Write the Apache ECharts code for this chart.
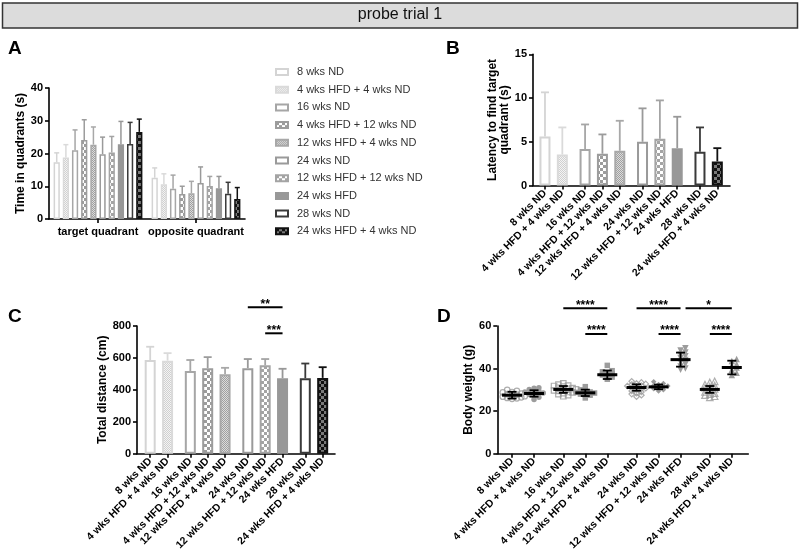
<!DOCTYPE html>
<html><head><meta charset="utf-8">
<script src="https://cdn.jsdelivr.net/npm/echarts@6/dist/echarts.min.js"></script>
<style>html,body{margin:0;padding:0;background:#fff}#c{width:800px;height:553px}</style>
</head><body><div id="c"></div><script>
// ---------------- DATA ----------------
const groups = ['8 wks ND','4 wks HFD + 4 wks ND','16 wks ND','4 wks HFD + 12 wks ND','12 wks HFD + 4 wks ND','24 wks ND','12 wks HFD + 12 wks ND','24 wks HFD','28 wks ND','24 wks HFD + 4 wks ND'];
const groupOf = [0,0,1,1,1,2,2,2,3,3];
const quadrants = ['target quadrant','opposite quadrant'];
const timeTarget   = [17.3,18.8,21.0,24.1,22.7,19.8,20.3,22.8,22.9,26.6];
const timeTargetSD = [2.9,3.9,6.2,6.2,5.4,5.2,4.9,7.0,6.6,3.9];
const timeOpposite   = [12.6,10.6,9.2,7.6,7.9,11.0,10.1,9.4,7.7,6.1];
const timeOppositeSD = [3.0,3.2,4.2,2.4,3.6,4.9,2.9,3.6,3.5,3.5];
const latency   = [5.61,3.55,4.16,3.63,3.97,5.0,5.34,4.27,3.85,2.75];
const latencySD = [5.04,3.09,2.82,2.21,3.43,3.82,4.39,3.59,2.79,1.52];
const distance   = [587,583,518,536,498,536,554,473,473,475];
const distanceSD = [83,47,69,69,40,57,39,59,92,67];
const bodyWeightMean = [27.5,28.3,30.2,28.6,37.1,31.1,31.4,44.2,30.2,40.5];
const bodyWeightSD   = [1.6,1.5,1.6,1.5,2.0,1.5,1.1,3.3,1.6,3.2];
const bw8ND      = [27.5,28.2,26.8,29.5,30.0,26.2,27.0,28.8,25.8,27.8,26.5,29.0,28.0,26.0];
const bw4H4N     = [28.5,29.5,30.8,27.2,28.0,26.5,29.0,31.0,27.8,25.5,28.8,30.2];
const bw16ND     = [30.0,31.5,29.0,32.5,28.0,30.5,33.0,27.5,29.5,31.0,32.0,28.5,30.8,29.8,27.0,31.8,30.2,28.8];
const bw4H12N    = [28.5,29.5,27.5,31.5,28.0,26.2,29.0,30.0,27.8,28.8];
const bw12H4N    = [37.0,38.5,36.0,41.5,35.0,37.5,39.0,36.5,38.0];
const bw24ND     = [31.0,32.5,29.5,33.5,28.0,30.5,34.0,27.5,31.5,30.0,32.0,29.0,33.0,28.5,31.8,30.8,26.8,32.8];
const bw12H12N   = [31.5,32.5,30.5,33.8,29.5,31.0,32.0,30.0,33.0,31.8];
const bw24HFD    = [44.0,46.5,42.0,49.5,40.0,45.0,47.5,43.0,41.0,48.5,39.5,45.8];
const bw28ND     = [30.0,32.0,28.0,33.5,27.0,31.0,29.0,34.0,26.5,30.5,32.5,28.5,27.5,31.5];
const bw24H4N    = [40.5,43.5,38.0,44.5,37.0,41.5,39.5,42.0];
const bodyWeights = [bw8ND,bw4H4N,bw16ND,bw4H12N,bw12H4N,bw24ND,bw12H12N,bw24HFD,bw28ND,bw24H4N];
const sigDistance = [{from:5,to:7,label:'**',row:0},{from:6,to:7,label:'***',row:1}];
const sigWeight = [{from:2,to:4,label:'****',row:0},{from:5,to:7,label:'****',row:0},{from:7,to:9,label:'*',row:0},
                   {from:3,to:4,label:'****',row:1},{from:6,to:7,label:'****',row:1},{from:8,to:9,label:'****',row:1}];
const axisA = {min:0,max:40,interval:10};
const axisB = {min:0,max:15,interval:5};
const axisC = {min:0,max:800,interval:200};
const axisD = {min:0,max:60,interval:20};

// ---------------- STYLE ----------------
const FONT = 'Liberation Sans, Arial, Helvetica, sans-serif';
function makePattern(type,a,b){
  const c=document.createElement('canvas');
  if(type==='checker'){c.width=6;c.height=6;const x=c.getContext('2d');x.fillStyle=b;x.fillRect(0,0,6,6);x.fillStyle=a;x.fillRect(0,0,3,3);x.fillRect(3,3,3,3);}
  else{c.width=2;c.height=2;const x=c.getContext('2d');x.fillStyle=b;x.fillRect(0,0,2,2);x.fillStyle=a;x.fillRect(0,0,1,1);x.fillRect(1,1,1,1);}
  return {image:c,repeat:'repeat'};
}
const STY = [
 {stroke:'#d4d4d4', fill:'#ffffff'},
 {stroke:'#dadada', fill:makePattern('fine','#d0d0d0','#f4f4f4')},
 {stroke:'#a6a6a6', fill:'#ffffff'},
 {stroke:'#9c9c9c', fill:makePattern('checker','#9c9c9c','#ffffff')},
 {stroke:'#a8a8a8', fill:makePattern('fine','#a0a0a0','#dcdcdc')},
 {stroke:'#9a9a9a', fill:'#ffffff'},
 {stroke:'#a4a4a4', fill:makePattern('checker','#a4a4a4','#ffffff')},
 {stroke:'#989898', fill:'#989898'},
 {stroke:'#3a3a3a', fill:'#ffffff'},
 {stroke:'#111111', fill:makePattern('checker','#111111','#7a7a7a')}
];
const SYM = [
 {s:'circle',open:true},{s:'circle'},{s:'rect',open:true},{s:'rect'},{s:'rect'},
 {s:'diamond',open:true},{s:'diamond'},{s:'triangle',rot:180},{s:'triangle',open:true},{s:'triangle'}
];
const posB = groups.map((_,i)=>i+groupOf[i]*0.31);
const posD = groups.map((_,i)=>i+groupOf[i]*0.33);

const axLine = {show:true,onZero:false,lineStyle:{color:'#000',width:1.6}};
const axTick = {show:true,length:4,lineStyle:{color:'#000',width:1.6}};
function yAx(grid, r, name, gap){
  return {type:'value',gridIndex:grid,min:r.min,max:r.max,interval:r.interval,
    axisLine:axLine,axisTick:axTick,splitLine:{show:false},
    axisLabel:{color:'#000',fontWeight:'bold',fontSize:11,margin:6,fontFamily:FONT},
    name:name,nameLocation:'middle',nameGap:gap,nameRotate:90,
    nameTextStyle:{color:'#000',fontWeight:'bold',fontSize:12,fontFamily:FONT,lineHeight:12}};
}
function xVal(grid,pos,min,max){
  return {type:'value',gridIndex:grid,min:min,max:max,
    axisLine:axLine,axisTick:Object.assign({},axTick,{customValues:pos}),splitLine:{show:false},
    axisLabel:{customValues:pos,rotate:45,margin:6,color:'#000',fontWeight:'bold',fontSize:10.5,fontFamily:FONT,
      formatter:(v)=>{let bi=0,bd=1e9;pos.forEach((p,i)=>{const d=Math.abs(p-v);if(d<bd){bd=d;bi=i;}});return groups[bi];}}};
}

const series = [];
// Panel A bars
const BWA = 6.2, GAPA = 0.48;
groups.forEach((g,s)=>{
  series.push({type:'bar',name:g,xAxisIndex:0,yAxisIndex:0,data:[timeTarget[s],timeOpposite[s]],
    barWidth:BWA,barGap:(GAPA*100)+'%',animation:false,silent:true,
    itemStyle:{color:STY[s].fill,borderColor:STY[s].stroke,borderWidth:1.5}});
});
// Panel A error bars
const errA=[];
groups.forEach((g,s)=>{errA.push([0,timeTarget[s],timeTargetSD[s],s]);errA.push([1,timeOpposite[s],timeOppositeSD[s],s]);});
series.push({type:'custom',xAxisIndex:0,yAxisIndex:0,data:errA,clip:false,silent:true,animation:false,z:1,
  renderItem:(p,api)=>{
    const s=api.value(3);const off=(s-4.5)*BWA*(1+GAPA);
    const b=api.coord([api.value(0),api.value(1)]);const t=api.coord([api.value(0),api.value(1)+api.value(2)]);
    const x=b[0]+off;const st={stroke:STY[s].stroke,lineWidth:1.5};
    return {type:'group',children:[
      {type:'line',shape:{x1:x,y1:b[1],x2:x,y2:t[1]},style:st},
      {type:'line',shape:{x1:x-2.5,y1:t[1],x2:x+2.5,y2:t[1]},style:st}]};
  }});
// Panels B and C bars
function barPanel(gridIdx, vals, sds, capW){
  groups.forEach((g,s)=>{
    series.push({type:'bar',name:g,xAxisIndex:gridIdx,yAxisIndex:gridIdx,data:[[posB[s],vals[s]]],
      barWidth:11,barGap:'-100%',animation:false,silent:true,
      itemStyle:{color:STY[s].fill,borderColor:STY[s].stroke,borderWidth:2}});
  });
  series.push({type:'custom',xAxisIndex:gridIdx,yAxisIndex:gridIdx,clip:false,silent:true,animation:false,z:1,
    data:groups.map((g,s)=>[posB[s],vals[s],sds[s],s]),
    renderItem:(p,api)=>{
      const s=api.value(3);
      const b=api.coord([api.value(0),api.value(1)]);const t=api.coord([api.value(0),api.value(1)+api.value(2)]);
      const st={stroke:STY[s].stroke,lineWidth:1.8};
      return {type:'group',children:[
        {type:'line',shape:{x1:b[0],y1:b[1],x2:b[0],y2:t[1]},style:st},
        {type:'line',shape:{x1:b[0]-capW/2,y1:t[1],x2:b[0]+capW/2,y2:t[1]},style:st}]};
    }});
}
barPanel(1, latency, latencySD, 8);
barPanel(2, distance, distanceSD, 8);
// Panel D scatter with beeswarm spread
function swarm(vals){
  const order=vals.map((v,i)=>i).sort((a,b)=>vals[a]-vals[b]);
  const placed=[];const offs=[0,0.22,-0.22,0.42,-0.42,0.58,-0.58];const res=new Array(vals.length);
  order.forEach(i=>{
    let best=0,bestC=1e9;
    for(const o of offs){let c=0;placed.forEach(q=>{if(Math.abs(q.v-vals[i])<1.4&&Math.abs(q.o-o)<0.15)c++;});
      if(c<bestC){bestC=c;best=o;} if(c===0)break;}
    placed.push({v:vals[i],o:best});res[i]=best;
  });
  return res;
}
groups.forEach((g,s)=>{
  const o=swarm(bodyWeights[s]);
  const sy=SYM[s];
  series.push({type:'scatter',name:g,xAxisIndex:3,yAxisIndex:3,animation:false,silent:true,
    data:bodyWeights[s].map((v,k)=>[posD[s]+o[k],v]),
    symbol:sy.s,symbolSize:sy.s==='triangle'?6.5:5.5,symbolRotate:sy.rot||0,
    itemStyle:sy.open?{color:'rgba(255,255,255,0)',borderColor:'#9a9a9a',borderWidth:1.2}:{color:'#9c9c9c',opacity:1}});
});
series.push({type:'custom',xAxisIndex:3,yAxisIndex:3,clip:false,silent:true,animation:false,z:5,
  data:groups.map((g,s)=>[posD[s],bodyWeightMean[s],bodyWeightSD[s]]),
  renderItem:(p,api)=>{
    const x=api.value(0),m=api.value(1),sd=api.value(2);
    const c=api.coord([x,m]),t=api.coord([x,m+sd]),b=api.coord([x,m-sd]);
    const st={stroke:'#000',lineWidth:1.8};
    return {type:'group',children:[
      {type:'line',shape:{x1:c[0]-10,y1:c[1],x2:c[0]+10,y2:c[1]},style:{stroke:'#000',lineWidth:3}},
      {type:'line',shape:{x1:c[0],y1:t[1],x2:c[0],y2:b[1]},style:st},
      {type:'line',shape:{x1:c[0]-4.5,y1:t[1],x2:c[0]+4.5,y2:t[1]},style:st},
      {type:'line',shape:{x1:c[0]-4.5,y1:b[1],x2:c[0]+4.5,y2:b[1]},style:st}]};
  }});
// significance bars
function sigSeries(gridIdx,list,pos,rowY){
  series.push({type:'custom',xAxisIndex:gridIdx,yAxisIndex:gridIdx,clip:false,silent:true,animation:false,z:5,
    data:list.map((c,k)=>[pos[c.from],pos[c.to],c.row,k]),
    renderItem:(p,api)=>{
      const k=api.value(3);const c=list[k];
      const cs=p.coordSys;
      let x1=api.coord([api.value(0),0])[0];const x2=api.coord([api.value(1),0])[0];
      if(list.some(o=>o!==c&&o.row===c.row&&o.to===c.from))x1+=5;
      const y=cs.y+rowY[c.row];
      return {type:'group',children:[
        {type:'line',shape:{x1:x1,y1:y,x2:x2,y2:y},style:{stroke:'#000',lineWidth:2}},
        {type:'text',style:{text:c.label,x:(x1+x2)/2,y:y-3,align:'center',verticalAlign:'middle',textAlign:'center',textVerticalAlign:'middle',
          font:'bold 12px '+FONT,fill:'#000'}}]};
    }});
}
sigSeries(2,sigDistance,posB,[-18.7,7.3]);
sigSeries(3,sigWeight,posD,[-17.7,8]);

const option = {
  animation:false,
  textStyle:{fontFamily:FONT},
  graphic:[{type:'rect',shape:{x:2.5,y:3,width:795,height:25},style:{fill:'#dcdcdc',stroke:'#333',lineWidth:1.5},z:-1}],
  title:[
    {text:'probe trial 1',left:'center',top:7,padding:0,textStyle:{fontSize:16,fontWeight:'normal',color:'#111',fontFamily:FONT}},
    {text:'A',left:8,top:39,padding:0,textStyle:{fontSize:19,fontWeight:'bold',color:'#000',fontFamily:FONT}},
    {text:'B',left:446,top:39,padding:0,textStyle:{fontSize:19,fontWeight:'bold',color:'#000',fontFamily:FONT}},
    {text:'C',left:8,top:307,padding:0,textStyle:{fontSize:19,fontWeight:'bold',color:'#000',fontFamily:FONT}},
    {text:'D',left:437,top:307,padding:0,textStyle:{fontSize:19,fontWeight:'bold',color:'#000',fontFamily:FONT}}
  ],
  legend:{orient:'vertical',left:275,top:65,padding:0,itemWidth:12,itemHeight:6,itemGap:3.7,icon:'rect',
    data:groups,selectedMode:false,
    textStyle:{fontSize:11,color:'#333',fontFamily:FONT,lineHeight:14,padding:[0,0,0,4]}},
  grid:[
    {left:49,top:88,width:196,height:131},
    {left:533,top:54.3,width:197,height:131.2},
    {left:137,top:326,width:198,height:131.3},
    {left:497.3,top:326,width:251,height:130.7}
  ],
  xAxis:[
    {type:'category',gridIndex:0,data:quadrants,axisLine:axLine,axisTick:Object.assign({},axTick,{alignWithLabel:true,interval:0}),
      axisLabel:{color:'#000',fontWeight:'bold',fontSize:11,margin:7,fontFamily:FONT,interval:0,hideOverlap:false}},
    xVal(1,posB,-0.69,10.66),
    xVal(2,posB,-0.76,10.64),
    xVal(3,posD,-0.67,10.74)
  ],
  yAxis:[
    yAx(0,axisA,'Time in quadrants (s)',21),
    yAx(1,axisB,'Latency to find target\nquadrant (s)',20),
    yAx(2,axisC,'Total distance (cm)',23),
    yAx(3,axisD,'Body weight (g)',20)
  ],
  series:series
};
const chart = echarts.init(document.getElementById('c'),null,{renderer:'canvas'});
chart.setOption(option);
</script></body></html>
